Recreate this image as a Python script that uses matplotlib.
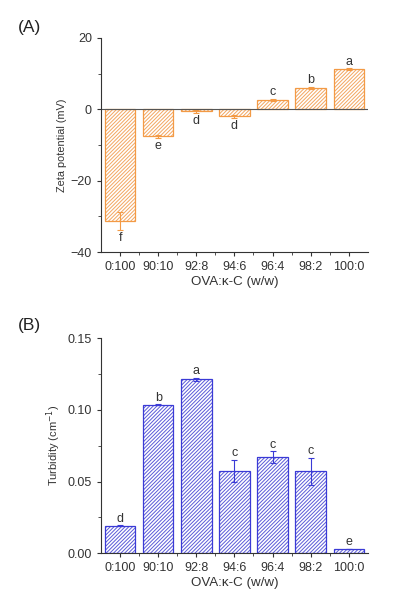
import numpy as np
import matplotlib.pyplot as plt
from matplotlib.ticker import MultipleLocator, FixedLocator

plt.rcParams['font.family'] = ['Liberation Sans', 'DejaVu Sans']
plt.rcParams['hatch.linewidth'] = 0.7

ratios = ['0:100', '90:10', '92:8', '94:6', '96:4', '98:2', '100:0']

zeta = [-31.3, -7.6, -0.6, -2.0, 2.7, 6.0, 11.3]
zeta_err = [2.6, 0.3, 0.3, 0.3, 0.3, 0.3, 0.2]
zeta_letters = ['f', 'e', 'd', 'd', 'c', 'b', 'a']

turb = [0.0193, 0.1037, 0.1214, 0.0576, 0.0672, 0.0572, 0.003]
turb_err = [0.0004, 0.0005, 0.0012, 0.0078, 0.0042, 0.0095, 0.0002]
turb_letters = ['d', 'b', 'a', 'c', 'c', 'c', 'e']

orange = '#F39A45'
orange_hatch = '#F3A660'
blue = '#3A3AD6'
blue_hatch = '#5A5AD8'


def hatched_bars(ax, x, vals, edge, hatch_col):
    # hatch drawn in a lighter tone, outline on top in full colour
    ax.bar(x, vals, width=0.8, facecolor='white', edgecolor=hatch_col,
           hatch='/' * 9, linewidth=0)
    ax.bar(x, vals, width=0.8, facecolor='none', edgecolor=edge,
           linewidth=0.9)


def style_axes(ax):
    ax.spines['top'].set_visible(False)
    ax.spines['right'].set_visible(False)
    ax.spines['left'].set_color('#333333')
    ax.spines['bottom'].set_color('#333333')
    ax.set_xlim(-0.5, 6.5)
    ax.set_xticks(np.arange(len(ratios)))
    ax.set_xticklabels(ratios, fontsize=9, color='#333333')
    ax.xaxis.set_minor_locator(FixedLocator(np.arange(len(ratios) - 1) + 0.5))
    ax.tick_params(axis='both', which='major', direction='out', length=3,
                   width=0.8, colors='#333333', labelsize=9)
    ax.tick_params(axis='both', which='minor', direction='out', length=2,
                   width=0.6, colors='#333333')
    ax.set_xlabel('OVA:κ-C (w/w)', fontsize=9.6, color='#333333', labelpad=2)


fig = plt.figure(figsize=(3.93, 6.08), dpi=100)
x = np.arange(len(ratios))

# (A) zeta potential
ax1 = fig.add_axes([0.257, 0.5855, 0.679, 0.352])
hatched_bars(ax1, x, zeta, orange, orange_hatch)
ax1.errorbar(x, zeta, yerr=zeta_err, fmt='none', ecolor=orange,
             elinewidth=0.8, capsize=2, capthick=0.8)
ax1.axhline(0, color='#555555', lw=0.8)
for xi, v, e, lab in zip(x, zeta, zeta_err, zeta_letters):
    if v < 0:
        ax1.text(xi, v - e - 0.6, lab, ha='center', va='top', fontsize=9,
                 color='#333333')
    else:
        ax1.text(xi, v + e + 0.2, lab, ha='center', va='bottom', fontsize=9,
                 color='#333333')
ax1.set_ylim(-40, 20)
ax1.set_yticks([-40, -20, 0, 20])
ax1.yaxis.set_minor_locator(MultipleLocator(10))
style_axes(ax1)
ax1.set_ylabel('Zeta potential (mV)', fontsize=7.8, color='#333333', labelpad=3)
fig.text(0.045, 0.955, '(A)', fontsize=12.5, color='#222222', va='center')

# (B) turbidity
ax2 = fig.add_axes([0.257, 0.09, 0.679, 0.3536])
hatched_bars(ax2, x, turb, blue, blue_hatch)
ax2.errorbar(x, turb, yerr=turb_err, fmt='none', ecolor=blue,
             elinewidth=0.8, capsize=2, capthick=0.8)
for xi, v, e, lab in zip(x, turb, turb_err, turb_letters):
    ax2.text(xi, v + e + 0.0003, lab, ha='center', va='bottom', fontsize=9,
             color='#333333')
ax2.set_ylim(0, 0.15)
ax2.set_yticks([0, 0.05, 0.10, 0.15])
ax2.set_yticklabels(['0.00', '0.05', '0.10', '0.15'])
ax2.yaxis.set_minor_locator(MultipleLocator(0.025))
style_axes(ax2)
ax2.set_ylabel('Turbidity (cm$^{-1}$)', fontsize=8, color='#333333', labelpad=3)
fig.text(0.045, 0.465, '(B)', fontsize=12.5, color='#222222', va='center')

fig.savefig('out.png', dpi=100)
